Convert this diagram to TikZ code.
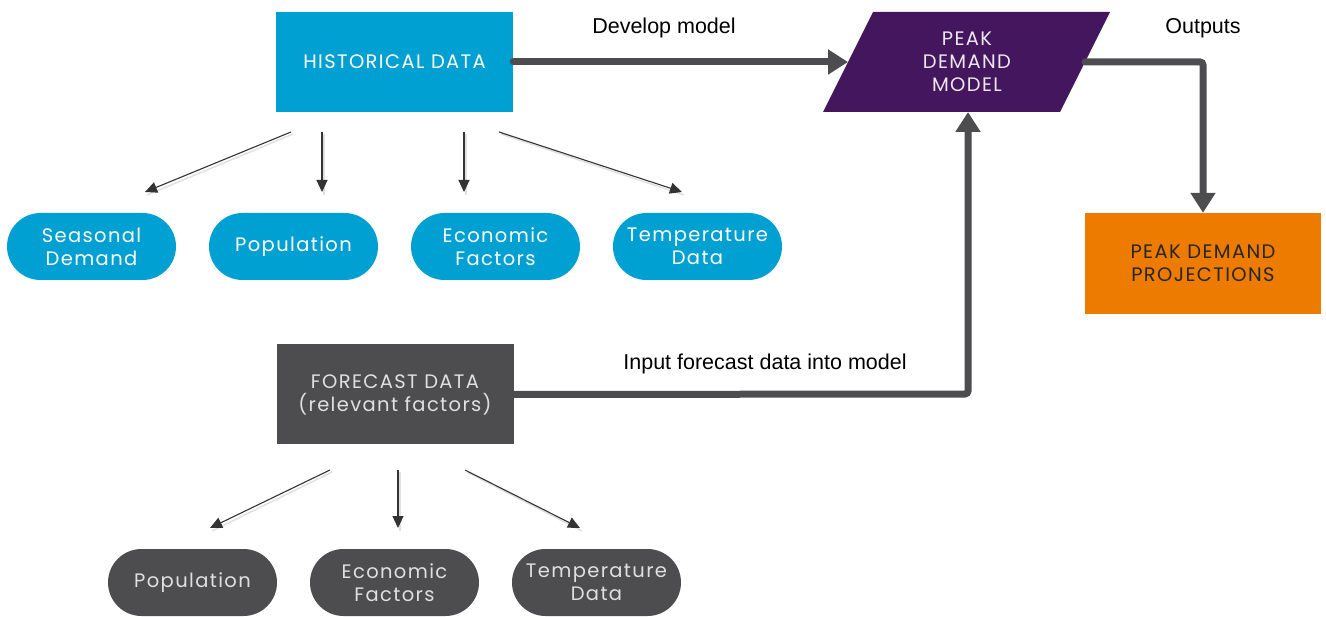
\documentclass[tikz,border=0pt]{standalone}
\usepackage{fontspec}
\setmainfont{Liberation Sans}
\newfontfamily\boxfont[LetterSpace=7]{Poppins}
\usetikzlibrary{arrows.meta,calc,shapes.misc}
\definecolor{cblue}{RGB}{0,160,210}
\definecolor{cpurple}{RGB}{68,22,94}
\definecolor{cgray}{RGB}{77,77,79}
\definecolor{corange}{RGB}{237,123,0}
\definecolor{cline}{RGB}{77,77,79}
\tikzset{
  boxtext/.style={font=\boxfont\fontsize{19.5}{23}\selectfont, align=center},
  bigbox/.style={boxtext, minimum width=237pt, minimum height=100pt, inner sep=0pt},
  pill/.style={boxtext, rounded rectangle, minimum width=169pt, minimum height=67pt, inner sep=0pt},
  thick arrow/.style={draw=cline, line width=7pt, line cap=round, rounded corners=3pt, -{Triangle[length=20pt,width=24pt]}},
  thin arrow/.style={draw=black!80, line width=1.1pt, -{Triangle[length=12pt,width=11pt]}},
  label/.style={font=\fontsize{21.5}{24}\selectfont, text=black},
}
\begin{document}
\begin{tikzpicture}[x=1pt,y=-1pt]
\useasboundingbox (0,0) rectangle (1326,617);
% main boxes
\node[bigbox, fill=cblue, text=white] (hist) at (394.5,62) {HISTORICAL DATA};
\node[bigbox, fill=cgray, text=black!12] (fore) at (395,394.5) {FORECAST DATA\\(relevant factors)};
\node[bigbox, fill=corange, text=black!85, minimum width=236pt, minimum height=101pt] (proj) at (1203,263.5) {PEAK DEMAND\\PROJECTIONS};
% model parallelogram
\coordinate (mtl) at (873,12);
\coordinate (mtr) at (1110,12);
\coordinate (mbr) at (1060,112);
\coordinate (mbl) at (823,112);
\fill[cpurple] (mtl) -- (mtr) -- (mbr) -- (mbl) -- cycle;
\node[boxtext, text=white!90!cpurple] (model) at (967,62) {PEAK\\DEMAND\\MODEL};
\coordinate (min) at (848,62);
\coordinate (mout) at (1085,62);
\coordinate (mbot) at (968,112);
% pills historical
\node[pill, fill=cblue, text=white] (p1) at (91.5,246.5) {Seasonal\\Demand};
\node[pill, fill=cblue, text=white] (p2) at (293.5,246.5) {Population};
\node[pill, fill=cblue, text=white] (p3) at (495.5,246.5) {Economic\\Factors};
\node[pill, fill=cblue, text=white] (p4) at (697.5,246.5) {Temperature\\Data};
% pills forecast
\node[pill, fill=cgray, text=black!12] (q1) at (192.5,582.5) {Population};
\node[pill, fill=cgray, text=black!12] (q2) at (394.5,582.5) {Economic\\Factors};
\node[pill, fill=cgray, text=black!12] (q3) at (596.5,582.5) {Temperature\\Data};
% thick connectors
\draw[thick arrow] (hist.east) -- (min);
\draw[thick arrow] (mout) -- (1203,62) -- (proj.north);
\draw[thick arrow] (fore.east) -- (968,394) -- (mbot);
% labels
\node[label] (l1) at (664,28) {Develop model};
\node[label] (l2) at (1203,28) {Outputs};
\node[label] (l3) at (765,364) {Input forecast data into model};
% thin arrows historical
\coordinate (hs1) at (291,132); \coordinate (he1) at (145,192);
\coordinate (hs2) at (322,132); \coordinate (he2) at (322,192);
\coordinate (hs3) at (464,132); \coordinate (he3) at (464,192);
\coordinate (hs4) at (499,132); \coordinate (he4) at (682,192);
\foreach \i in {1,...,4} {
  \draw[black!12, line width=1.5pt] ($(hs\i)+(2,2)$) -- ($(he\i)+(2,3)$);
  \draw[thin arrow] (hs\i) -- (he\i);
}
% thin arrows forecast
\coordinate (fs1) at (330,470); \coordinate (fe1) at (210,528);
\coordinate (fs2) at (398,470); \coordinate (fe2) at (398,528);
\coordinate (fs3) at (465,470); \coordinate (fe3) at (580,528);
\foreach \i in {1,...,3} {
  \draw[black!12, line width=1.5pt] ($(fs\i)+(2,2)$) -- ($(fe\i)+(2,3)$);
  \draw[thin arrow] (fs\i) -- (fe\i);
}
\end{tikzpicture}
\end{document}
